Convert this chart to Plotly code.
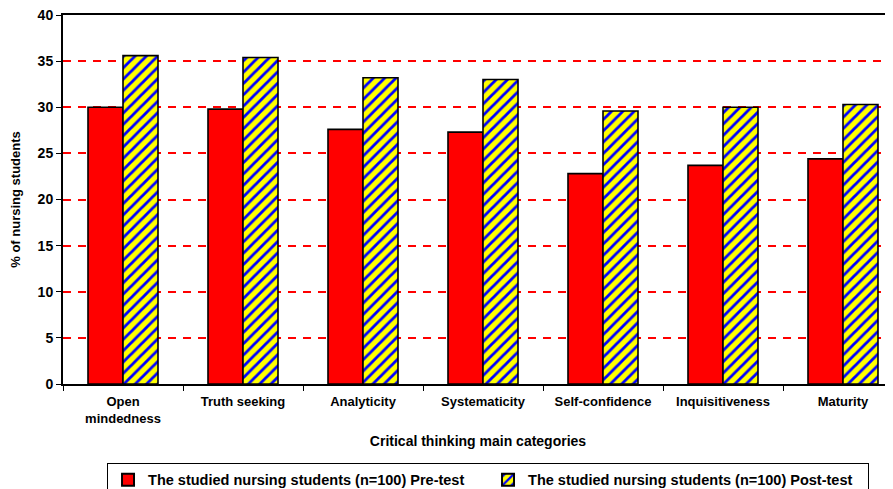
import plotly.graph_objects as go

categories = ["Open<br>mindedness", "Truth seeking", "Analyticity", "Systematicity",
              "Self-confidence", "Inquisitiveness", "Maturity"]
pre_test = [30.0, 29.8, 27.6, 27.3, 22.8, 23.7, 24.4]
post_test = [35.6, 35.4, 33.2, 33.0, 29.6, 30.0, 30.3]
y_ticks = [0, 5, 10, 15, 20, 25, 30, 35, 40]

FONT = "Liberation Sans, Arial, sans-serif"

# The page body has an 8px default margin, so the figure is sized/offset to compensate
W, H = 885, 481

fig = go.Figure()
fig.add_trace(go.Bar(
    x=categories, y=pre_test,
    name="The studied nursing students (n=100) Pre-test",
    marker=dict(color="#FF0000", line=dict(color="black", width=1.6)),
))
fig.add_trace(go.Bar(
    x=categories, y=post_test,
    name="The studied nursing students (n=100) Post-test",
    marker=dict(color="#FFFF00", line=dict(color="black", width=1.6),
                pattern=dict(shape="/", fgcolor="#0000FF", bgcolor="#FFFF00",
                             size=8, solidity=0.35, fillmode="replace")),
))

fig.update_layout(
    width=W, height=H,
    margin=dict(l=55, r=0, t=7, b=105),
    paper_bgcolor="white", plot_bgcolor="white",
    barmode="group", bargap=0.4167, bargroupgap=0,
    font=dict(family=FONT, color="black"),
    showlegend=True,
    legend=dict(
        orientation="h", xref="container", yref="container",
        x=0.1119, y=0.019, xanchor="left", yanchor="middle",
        bordercolor="black", borderwidth=1,
        font=dict(family=FONT, size=14.5, color="black", weight="bold"),
        entrywidth=335, entrywidthmode="pixels",
        traceorder="normal", itemsizing="constant",
    ),
)

fig.update_xaxes(
    type="category",
    range=[-0.5, 6.4167],
    automargin=False,
    showline=True, linecolor="black", linewidth=2, mirror=True,
    ticks="outside", ticklen=5, tickcolor="black", tickson="boundaries",
    ticklabelstandoff=4,
    tickfont=dict(family=FONT, size=13, color="black", weight="bold"),
    title=dict(text="Critical thinking main categories",
               font=dict(family=FONT, size=14, color="black", weight="bold"),
               standoff=12),
    showgrid=False,
)
fig.update_yaxes(
    range=[0, 40], tickvals=y_ticks,
    automargin=False, ticklabeloverflow="allow",
    showline=True, linecolor="black", linewidth=2, mirror=False,
    ticks="outside", ticklen=5, tickcolor="black",
    tickfont=dict(family=FONT, size=14, color="black", weight="bold"),
    showgrid=True, gridcolor="rgb(255,0,0)", gridwidth=1.5, griddash="8px,7px",
    zeroline=False,
    title=dict(text="% of nursing students",
               font=dict(family=FONT, size=13, color="black", weight="bold"),
               standoff=14),
)

fig.write_html("out.html")
